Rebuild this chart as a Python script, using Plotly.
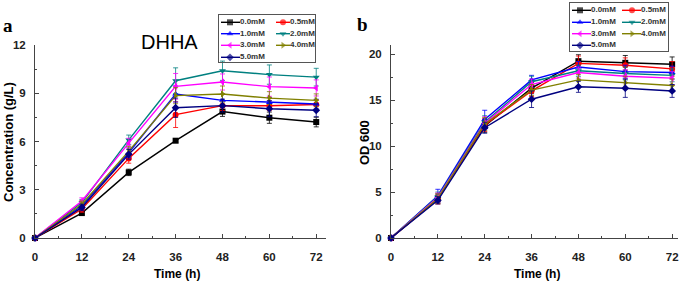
import plotly.graph_objects as go

W, H = 685, 282

time_h = [0, 12, 24, 36, 48, 60, 72]
labels = ["0.0mM", "0.5mM", "1.0mM", "2.0mM", "3.0mM", "4.0mM", "5.0mM"]
colors = ["#000000", "#FF0000", "#0000FF", "#008080", "#FF00FF", "#808000", "#000080"]
symbols = ["square", "circle", "triangle-up", "triangle-down",
           "triangle-left", "triangle-right", "diamond"]

# Panel a: DHHA concentration (g/L)
conc_00 = [0, 1.55, 4.08, 6.05, 7.86, 7.48, 7.21]
conc_05 = [0, 1.80, 4.95, 7.67, 8.23, 8.22, 8.30]
conc_10 = [0, 2.00, 5.30, 8.95, 8.56, 8.43, 8.33]
conc_20 = [0, 2.20, 6.10, 9.78, 10.40, 10.16, 10.00]
conc_30 = [0, 2.30, 5.90, 9.43, 9.70, 9.41, 9.33]
conc_40 = [0, 2.10, 5.40, 8.85, 8.95, 8.70, 8.56]
conc_50 = [0, 1.90, 5.20, 8.10, 8.23, 8.04, 7.94]
conc_err_00 = [0, 0.10, 0.20, 0.10, 0.30, 0.35, 0.30]
conc_err_05 = [0, 0.20, 0.30, 0.80, 0.30, 0.30, 0.30]
conc_err_10 = [0, 0.20, 0.30, 0.50, 0.40, 0.30, 0.30]
conc_err_20 = [0, 0.20, 0.30, 0.80, 0.60, 0.60, 0.55]
conc_err_30 = [0, 0.20, 0.30, 0.80, 0.50, 0.60, 0.50]
conc_err_40 = [0, 0.20, 0.30, 0.50, 0.50, 0.40, 0.40]
conc_err_50 = [0, 0.20, 0.30, 0.60, 0.40, 0.50, 0.40]

# Panel b: OD 600
od_00 = [0, 4.30, 12.20, 16.30, 19.24, 19.06, 18.90]
od_05 = [0, 4.20, 12.30, 16.00, 19.00, 18.80, 18.40]
od_10 = [0, 4.60, 12.90, 17.20, 18.60, 18.10, 18.00]
od_20 = [0, 4.50, 12.60, 17.00, 18.20, 17.90, 17.70]
od_30 = [0, 4.40, 12.50, 16.70, 18.00, 17.60, 17.40]
od_40 = [0, 4.30, 12.40, 16.10, 17.20, 16.90, 16.60]
od_50 = [0, 4.10, 12.00, 15.10, 16.45, 16.30, 16.00]
od_err_00 = [0, 0.50, 0.70, 0.60, 0.70, 0.80, 0.80]
od_err_05 = [0, 0.50, 0.70, 0.60, 0.80, 0.80, 0.80]
od_err_10 = [0, 0.70, 1.00, 0.50, 0.60, 0.70, 0.70]
od_err_20 = [0, 0.50, 0.70, 0.60, 0.60, 0.70, 0.70]
od_err_30 = [0, 0.50, 0.70, 0.60, 0.60, 0.70, 0.70]
od_err_40 = [0, 0.50, 0.70, 0.60, 0.60, 0.70, 0.70]
od_err_50 = [0, 0.40, 0.60, 0.90, 0.60, 1.00, 0.70]

conc_series = [conc_00, conc_05, conc_10, conc_20, conc_30, conc_40, conc_50]
conc_errs = [conc_err_00, conc_err_05, conc_err_10, conc_err_20, conc_err_30, conc_err_40, conc_err_50]
od_series = [od_00, od_05, od_10, od_20, od_30, od_40, od_50]
od_errs = [od_err_00, od_err_05, od_err_10, od_err_20, od_err_30, od_err_40, od_err_50]

FONT = "Arial, Liberation Sans, sans-serif"
AXC = "#444444"
FRAME = "#555555"

fig = go.Figure()

def add_series(series, errs, xa, ya):
    for lab, col, sym, ys, es in zip(labels, colors, symbols, series, errs):
        fig.add_trace(go.Scatter(
            x=time_h, y=ys, xaxis=xa, yaxis=ya, mode="lines+markers",
            line=dict(color=col, width=1.4),
            marker=dict(symbol=sym, size=6, color=col, line=dict(width=0)),
            error_y=dict(type="data", array=es, visible=True, color=col,
                         thickness=0.8, width=2.5),
            cliponaxis=False, showlegend=False, name=lab, hoverinfo="skip"))

add_series(conc_series, conc_errs, "x", "y")
add_series(od_series, od_errs, "x2", "y2")

def px_x(p):
    return p / W

def px_y(p):
    return 1 - p / H

def add_legend(box, col_x, row_y, order):
    x0, y0, x1, y1 = box
    # legend frame as a bordered empty annotation box
    fig.add_annotation(xref="x3", yref="y3", x=(x0 + x1) / 2, y=(y0 + y1) / 2,
                       text=" ", showarrow=False, xanchor="center", yanchor="middle",
                       width=x1 - x0 - 2, height=y1 - y0 - 2, borderpad=0,
                       bordercolor=FRAME, borderwidth=1, bgcolor="rgba(0,0,0,0)")
    for idx, (c, r) in enumerate(order):
        lx0, mx, lx1 = col_x[c]
        yy = row_y[r]
        fig.add_trace(go.Scatter(
            x=[lx0, mx, lx1], y=[yy, yy, yy], xaxis="x3", yaxis="y3",
            mode="lines+markers+text",
            line=dict(color=colors[idx], width=1.4),
            marker=dict(symbol=symbols[idx], size=[0, 6, 0], color=colors[idx], line=dict(width=0)),
            text=["", "", labels[idx]], textposition="middle right",
            textfont=dict(family=FONT, size=8, color="#333333", weight="bold"),
            cliponaxis=False, showlegend=False, hoverinfo="skip"))

legend_order = [(0, 0), (1, 0), (0, 1), (1, 1), (0, 2), (1, 2), (0, 3)]
add_legend((218, 14, 316, 63), [(221, 230, 240), (276, 283, 290)],
           [22.3, 33.7, 45.3, 57.3], legend_order)
add_legend((569, 2, 669, 52), [(572, 580, 591), (622, 632, 641)],
           [10.3, 22.3, 33.7, 45.3], legend_order)

def ann(x, y, text, size, angle=0, family=FONT, weight="bold", color="#000000"):
    fig.add_annotation(xref="x3", yref="y3", x=x, y=y, text=text, showarrow=False,
                       textangle=angle, xanchor="center", yanchor="middle",
                       font=dict(family=family, size=size, color=color, weight=weight))

ann(8, 25, "a", 19, family="Times New Roman, Liberation Serif, serif")
ann(362, 24, "b", 19, family="Times New Roman, Liberation Serif, serif")
ann(169, 42, "DHHA", 20, weight="normal")
ann(177, 274, "Time (h)", 12)
ann(537, 274, "Time (h)", 12)
ann(8, 142, "Concentration (g/L)", 13, angle=-90)
ann(364, 143, "OD 600", 13, angle=-90)

ydom = [px_y(238), px_y(45)]
tickfont = dict(family=FONT, size=11.5, color="#222222", weight="bold")
common = dict(showline=True, linecolor=AXC, linewidth=1, showgrid=False, zeroline=False,
              ticks="inside", ticklen=4, tickcolor=AXC, tickwidth=1, automargin=False,
              tickfont=tickfont, fixedrange=True)

fig.update_layout(
    template="none",
    width=W, height=H, margin=dict(l=0, r=0, t=0, b=0, pad=0), autosize=False,
    paper_bgcolor="white", plot_bgcolor="rgba(0,0,0,0)", showlegend=False,
    xaxis=dict(domain=[px_x(35), px_x(326)], range=[0, 74.5], anchor="y",
               tickmode="linear", tick0=0, dtick=12, ticklabelstandoff=8,
               minor=dict(ticks="inside", ticklen=2, tickcolor=AXC, dtick=6, tick0=0), **common),
    yaxis=dict(domain=ydom, range=[0, 12], anchor="x",
               tickmode="linear", tick0=0, dtick=3, ticklabelstandoff=6,
               minor=dict(ticks="inside", ticklen=2, tickcolor=AXC, dtick=1.5, tick0=0), **common),
    xaxis2=dict(domain=[px_x(391), px_x(678)], range=[0, 73.5], anchor="y2",
                tickmode="linear", tick0=0, dtick=12, ticklabelstandoff=8,
                minor=dict(ticks="inside", ticklen=2, tickcolor=AXC, dtick=6, tick0=0), **common),
    yaxis2=dict(domain=ydom, range=[0, 21], anchor="x2",
                tickmode="linear", tick0=0, dtick=5, ticklabelstandoff=6,
                minor=dict(ticks="inside", ticklen=2, tickcolor=AXC, dtick=2.5, tick0=0), **common),
    xaxis3=dict(domain=[0, 1], range=[0, W], anchor="y3", visible=False, fixedrange=True,
                automargin=False),
    yaxis3=dict(domain=[0, 1], range=[H, 0], anchor="x3", visible=False, fixedrange=True,
                automargin=False),
)

fig.write_html("out.html", config={"displayModeBar": False, "staticPlot": True},
               post_script="document.body.style.margin='0';")
